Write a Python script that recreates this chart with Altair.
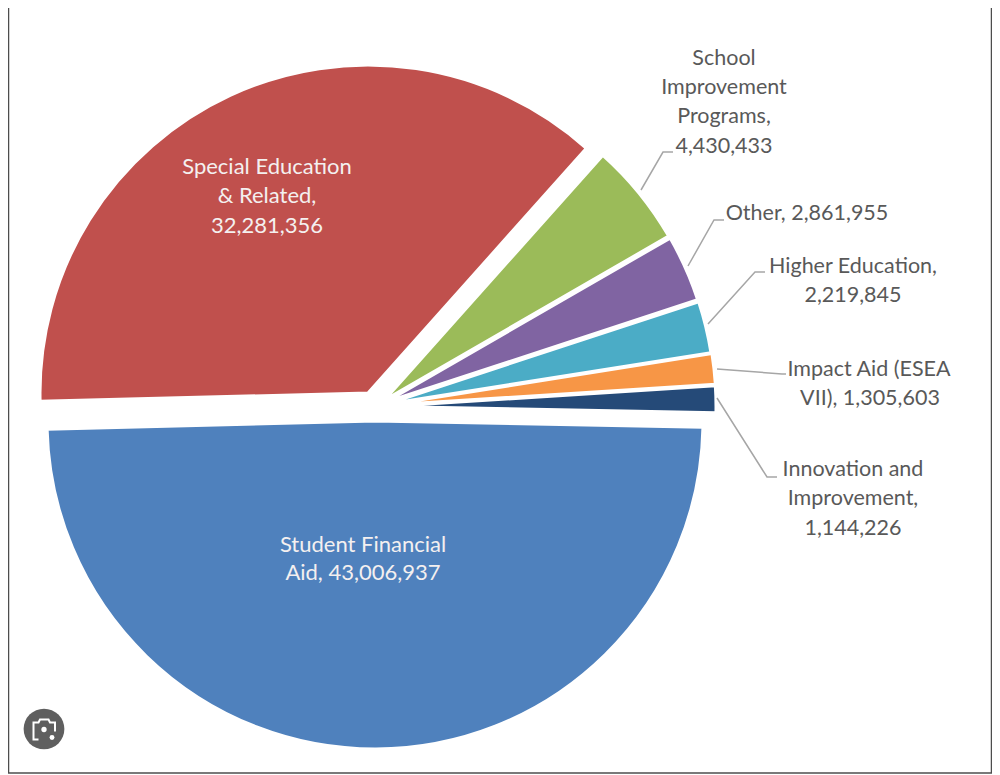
import math
import altair as alt
import pandas as pd

categories = ["Student Financial Aid", "Special Education & Related", "School Improvement Programs",
              "Other", "Higher Education", "Impact Aid (ESEA VII)", "Innovation and Improvement"]
values = [43006937, 32281356, 4430433, 2861955, 2219845, 1305603, 1144226]
colors = ["#4F81BD", "#C0504D", "#9BBB59", "#8064A2", "#4BACC6", "#F79646", "#254A78"]

# exploded slice centres, in reference pixels
center_x = [375, 368, 384.5, 386, 387, 388, 388]
center_y = [421, 393, 400, 402, 404, 405, 406.5]

label_text = ["School", "Improvement", "Programs,", "4,430,433", "Other, 2,861,955",
              "Higher Education,", "2,219,845", "Impact Aid (ESEA", "VII), 1,305,603",
              "Innovation and", "Improvement,", "1,144,226"]
label_x = [724, 724, 724, 724, 807, 853, 853, 869, 870, 853, 853, 853]
label_y = [58.5, 87.5, 116.5, 146.5, 213.5, 266.5, 295.5, 369.5, 398.5, 470, 499, 529]

inner_text = ["Student Financial", "Aid, 43,006,937", "Special Education", "& Related,", "32,281,356"]
inner_x = [363, 363, 267, 267, 267]
inner_y = [544.5, 573, 166.5, 196, 226]

leader_id = [0, 0, 0, 1, 1, 1, 2, 2, 2, 3, 3, 3, 4, 4, 4]
leader_x = [641, 663, 673, 688, 714, 724, 708, 755, 765, 717, 782, 786, 717, 767, 777]
leader_y = [190, 152, 152, 266, 220, 220, 324, 272, 272, 369, 374, 374, 398, 477, 477]

frame_x = [8.5, 8.5, 991.5, 991.5]
frame_y = [8, 773, 773, 8]

lens_x = [38.5, 33.5, 33.5, 38.5, 40, 48.5, 50, 55, 55]
lens_y = [739.5, 739.5, 722.5, 722.5, 719.5, 719.5, 722.5, 722.5, 731.5]

total = sum(values)
start_angle = math.radians(91.1)
starts, ends, running = [], [], 0
for v in values:
    starts.append(running)
    running += v
    ends.append(running)

slices = pd.DataFrame({"category": categories, "start": starts, "end": ends, "cx": center_x, "cy": center_y})

xs = alt.Scale(domain=[8, 992], range=[0, 984], nice=False, zero=False)
ys = alt.Scale(domain=[8, 774], range=[0, 766], nice=False, zero=False)
X = lambda f: alt.X(f, type="quantitative", scale=xs, axis=None)
Y = lambda f: alt.Y(f, type="quantitative", scale=ys, axis=None)

arcs = alt.Chart(slices).mark_arc(radius=328, stroke="white", strokeWidth=3).encode(
    x=X("cx"), y=Y("cy"),
    theta=alt.Theta("start:Q", stack=False,
                    scale=alt.Scale(domain=[0, total], range=[start_angle, start_angle + 2 * math.pi])),
    theta2="end:Q",
    color=alt.Color("category:N", scale=alt.Scale(domain=categories, range=colors), legend=None),
)

leaders = alt.Chart(pd.DataFrame({"id": leader_id, "x": leader_x, "y": leader_y})).mark_line(
    color="#A6A6A6", strokeWidth=1.5).encode(x=X("x"), y=Y("y"), detail="id:N", order=alt.Order("x:Q"))

outer = alt.Chart(pd.DataFrame({"t": label_text, "x": label_x, "y": label_y})).mark_text(
    font="Lato", fontSize=21.5, color="#595959", align="center", baseline="middle").encode(
    x=X("x"), y=Y("y"), text="t:N")

inner = alt.Chart(pd.DataFrame({"t": inner_text, "x": inner_x, "y": inner_y})).mark_text(
    font="Lato", fontSize=22, color="#F4F0F0", align="center", baseline="middle").encode(
    x=X("x"), y=Y("y"), text="t:N")

frame = alt.Chart(pd.DataFrame({"x": frame_x, "y": frame_y, "o": [0, 1, 2, 3]})).mark_line(
    color="#4D4D4D", strokeWidth=1.5).encode(x=X("x"), y=Y("y"), order="o:Q")

badge = alt.Chart(pd.DataFrame({"x": [44], "y": [729]})).mark_point(
    filled=True, size=1660, opacity=1, color="#5F5F5F", shape="circle").encode(x=X("x"), y=Y("y"))
lens = alt.Chart(pd.DataFrame({"x": lens_x, "y": lens_y, "o": list(range(len(lens_x)))})).mark_line(
    color="white", strokeWidth=2).encode(x=X("x"), y=Y("y"), order="o:Q")
dots = alt.Chart(pd.DataFrame({"x": [44, 52], "y": [729.5, 737.5], "s": [28, 24]})).mark_point(
    filled=True, opacity=1, color="white", shape="circle").encode(
    x=X("x"), y=Y("y"), size=alt.Size("s:Q", scale=None, legend=None))

chart = alt.layer(arcs, leaders, outer, inner, frame, badge, lens, dots).properties(
    width=984, height=766, padding=0, autosize=alt.AutoSizeParams(type="none"),
    background="white",
).configure_view(stroke=None)

chart.save("out.html", embed_options={"renderer": "svg", "actions": False})
